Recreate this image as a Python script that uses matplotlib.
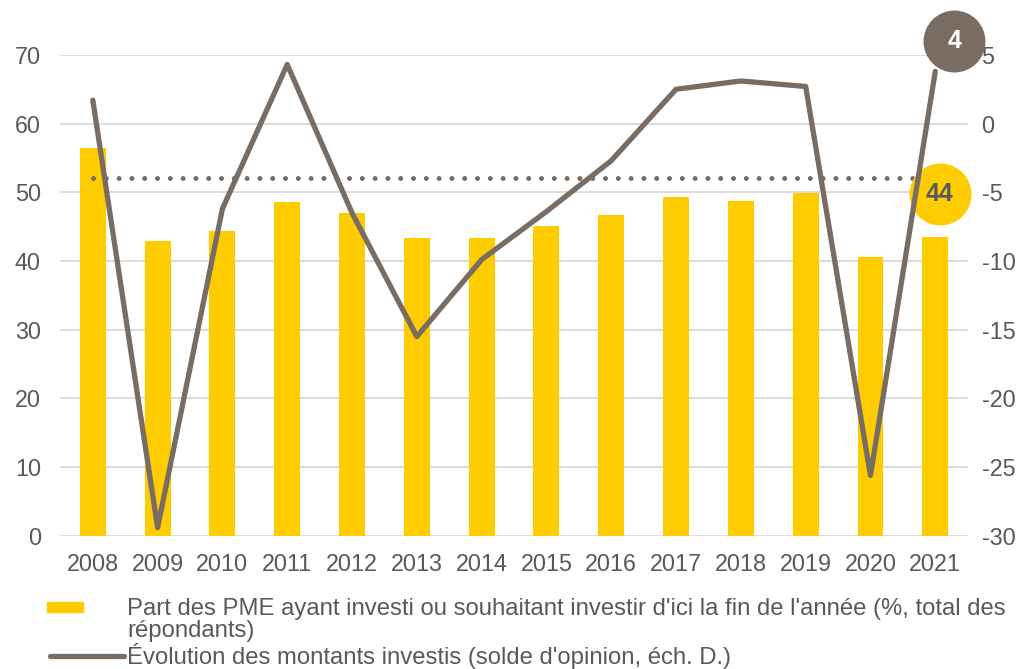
import matplotlib.pyplot as plt
from matplotlib.lines import Line2D
from matplotlib.patches import Rectangle

plt.rcParams['font.family'] = ['Liberation Sans', 'DejaVu Sans']
plt.rcParams['axes.unicode_minus'] = False

annees = [2008, 2009, 2010, 2011, 2012, 2013, 2014, 2015, 2016, 2017, 2018, 2019, 2020, 2021]
part_pme = [56.5, 42.9, 44.4, 48.6, 47.0, 43.4, 43.4, 45.1, 46.7, 49.3, 48.8, 49.9, 40.6, 43.5]
solde = [1.7, -29.4, -6.2, 4.3, -6.5, -15.5, -9.9, -6.4, -2.7, 2.5, 3.1, 2.7, -25.6, 3.8]
moyenne = 52.1

jaune = '#FFCC00'
gris = '#786C63'
texte = '#595959'

fig = plt.figure(figsize=(10.24, 6.69), dpi=100)
ax = fig.add_axes([0.059, 0.199, 0.886, 0.719])
ax2 = ax.twinx()

x = list(range(len(annees)))
ax.bar(x, part_pme, width=0.4, color=jaune, zorder=2)
ax.plot([x[0], x[-1] - 0.25], [moyenne, moyenne], color=gris, lw=3.6,
        linestyle=(0, (0.01, 2.55)), dash_capstyle='round', zorder=3)

ax.set_ylim(0, 70)
ax.set_xlim(-0.5, len(annees) - 0.5)
ax.set_yticks(range(0, 71, 10))
ax.set_xticks(x)
ax.set_xticklabels([str(a) for a in annees])
ax.grid(axis='y', color='#D9D9D9', lw=1.3, zorder=0)
ax.set_axisbelow(True)

ax2.plot(x, solde, color=gris, lw=3.8, solid_capstyle='round', zorder=4)
ax2.set_ylim(-30, 5)
ax2.set_yticks(range(-30, 6, 5))

for a in (ax, ax2):
    for s in a.spines.values():
        s.set_visible(False)
    a.tick_params(length=0, labelsize=16.8, colors=texte)
ax.tick_params(axis='y', pad=14)
ax.tick_params(axis='x', pad=12)
ax2.tick_params(axis='y', pad=10)

# bulles de valeur
ax.scatter([x[-1] + 0.07], [moyenne - 2.3], s=1900, color=jaune, zorder=6, clip_on=False)
ax.text(x[-1] + 0.07, moyenne - 2.3, '44', ha='center', va='center', fontsize=18,
        fontweight='bold', color=texte, zorder=7)
ax2.scatter([x[-1] + 0.29], [6.0], s=1900, color=gris, zorder=6, clip_on=False)
ax2.text(x[-1] + 0.29, 6.0, '4', ha='center', va='center', fontsize=18,
         fontweight='bold', color='white', zorder=7, clip_on=False)

# légende
fig.add_artist(Rectangle((47 / 1024, 1 - 612 / 669), 36 / 1024, 10 / 669,
                         color=jaune, transform=fig.transFigure))
fig.text(127 / 1024, 1 - 620 / 669,
         "Part des PME ayant investi ou souhaitant investir d'ici la fin de l'année (%, total des\nrépondants)",
         ha='left', va='center', fontsize=17.2, color=texte, linespacing=0.98)
fig.add_artist(Line2D([50 / 1024, 124 / 1024], [1 - 656 / 669, 1 - 656 / 669], color=gris,
                      lw=3.8, solid_capstyle='round', transform=fig.transFigure))
fig.text(127 / 1024, 1 - 656 / 669, "Évolution des montants investis (solde d'opinion, éch. D.)",
         ha='left', va='center', fontsize=17.2, color=texte)

fig.savefig('out.png', dpi=100)
